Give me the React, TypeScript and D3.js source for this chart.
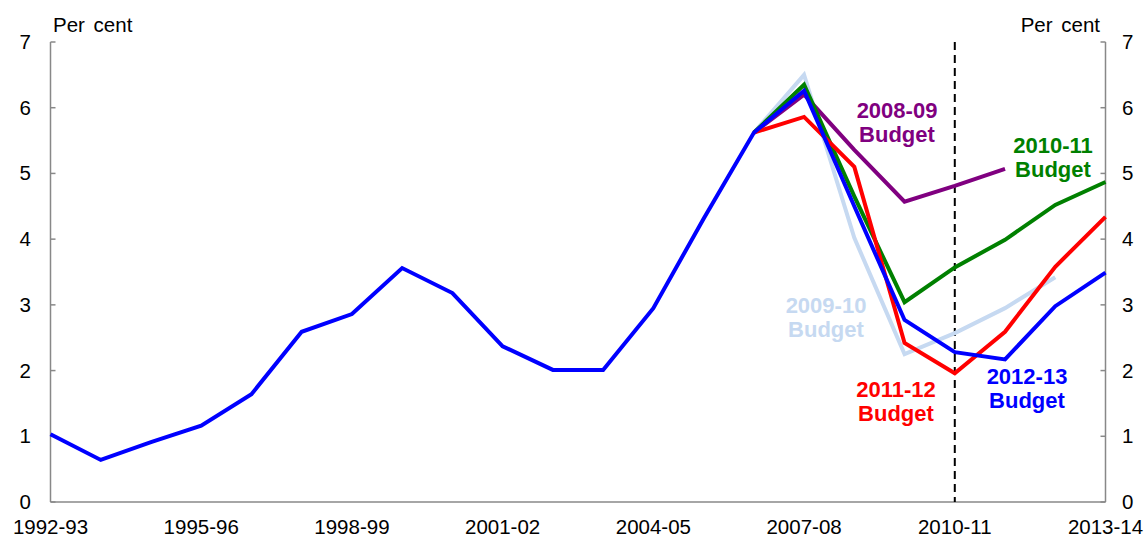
import React from "react";
import * as d3 from "d3";

// financial years on the x axis
const years = [
  "1992-93", "1993-94", "1994-95", "1995-96", "1996-97", "1997-98", "1998-99",
  "1999-00", "2000-01", "2001-02", "2002-03", "2003-04", "2004-05", "2005-06",
  "2006-07", "2007-08", "2008-09", "2009-10", "2010-11", "2011-12", "2012-13",
  "2013-14",
];
const xTickLabels = ["1992-93", "1995-96", "1998-99", "2001-02", "2004-05", "2007-08", "2010-11", "2013-14"];
const yTicks = [0, 1, 2, 3, 4, 5, 6, 7];

// outcomes up to 2006-07 (shared by every budget)
const history = [1.03, 0.64, 0.91, 1.16, 1.64, 2.59, 2.86, 3.56, 3.18, 2.37, 2.01, 2.01, 2.95, 4.31, 5.62];

// forecasts from 2007-08 on
const budget0809 = [6.2, 5.36, 4.57, 4.81, 5.07];
const budget0910 = [6.5, 4.02, 2.25, 2.57, 2.95, 3.42];
const budget1011 = [6.35, 4.65, 3.04, 3.57, 3.99, 4.52, 4.87];
const budget1112 = [5.86, 5.1, 2.42, 1.96, 2.59, 3.58, 4.34];
const budget1213 = [6.26, 4.5, 2.77, 2.28, 2.17, 2.98, 3.49];

const width = 1145;
const height = 537;
const left = 50.5;
const right = 1105.5;
const top = 42;
const bottom = 502;

type Series = { name: string; color: string; values: number[]; label: [number, number]; full?: boolean };

const series: Series[] = [
  { name: "2009-10", color: "#C6D9F1", values: budget0910, label: [826, 313] },
  { name: "2008-09", color: "#800080", values: budget0809, label: [897, 118] },
  { name: "2010-11", color: "#008000", values: budget1011, label: [1053, 153] },
  { name: "2011-12", color: "#FF0000", values: budget1112, label: [896, 397] },
  { name: "2012-13", color: "#0000FF", values: budget1213, label: [1027, 384], full: true },
];

export default function App() {
  const x = d3.scalePoint<string>().domain(years).range([left, right]);
  const y = d3.scaleLinear().domain([0, 7]).range([bottom, top]);

  const line = d3
    .line<[string, number]>()
    .x((d) => x(d[0]) as number)
    .y((d) => y(d[1]));

  const font = "'Liberation Sans', Arial, sans-serif";
  const axisColor = "#888888";

  return (
    <svg
      width={width}
      height={height}
      style={{ position: "absolute", left: 0, top: 0, fontFamily: font }}
    >
      {/* axes */}
      <line x1={left} x2={left} y1={top} y2={bottom} stroke={axisColor} strokeWidth={1.5} />
      <line x1={right} x2={right} y1={top} y2={bottom} stroke={axisColor} strokeWidth={1.5} />
      <line x1={left} x2={right} y1={bottom} y2={bottom} stroke={axisColor} strokeWidth={1.5} />
      {yTicks.map((t) => (
        <g key={t}>
          <line x1={left} x2={left + 5} y1={y(t)} y2={y(t)} stroke={axisColor} strokeWidth={1.5} />
          <line x1={right - 5} x2={right} y1={y(t)} y2={y(t)} stroke={axisColor} strokeWidth={1.5} />
          <text x={31} y={y(t) + 7} fontSize={20.5} textAnchor="end">{t}</text>
          <text x={1122} y={y(t) + 7} fontSize={20.5} textAnchor="start">{t}</text>
        </g>
      ))}
      {xTickLabels.map((lab) => (
        <text key={lab} x={x(lab)} y={534} fontSize={20.5} textAnchor="middle">{lab}</text>
      ))}
      <text x={53} y={32} fontSize={20.5} wordSpacing={3}>Per cent</text>
      <text x={1100} y={32} fontSize={20.5} wordSpacing={3} textAnchor="end">Per cent</text>

      {/* dashed line at 2010-11 */}
      <line
        x1={x("2010-11")}
        x2={x("2010-11")}
        y1={top}
        y2={bottom}
        stroke="#000"
        strokeWidth={2}
        strokeDasharray="8,5"
      />

      {/* budget lines */}
      {series.map((s) => {
        const start = s.full ? 0 : history.length - 1;
        const vals = history.slice(start).concat(s.values);
        const pts = vals.map((v, i) => [years[start + i], v] as [string, number]);
        return (
          <path
            key={s.name}
            d={line(pts) ?? ""}
            fill="none"
            stroke={s.color}
            strokeWidth={4}
            strokeLinejoin="miter"
          />
        );
      })}

      {/* labels */}
      {series.map((s) => (
        <text
          key={"l" + s.name}
          x={s.label[0]}
          y={s.label[1]}
          fill={s.color}
          fontSize={22}
          fontWeight="bold"
          textAnchor="middle"
        >
          <tspan x={s.label[0]}>{s.name}</tspan>
          <tspan x={s.label[0]} dy={24}>Budget</tspan>
        </text>
      ))}
    </svg>
  );
}
